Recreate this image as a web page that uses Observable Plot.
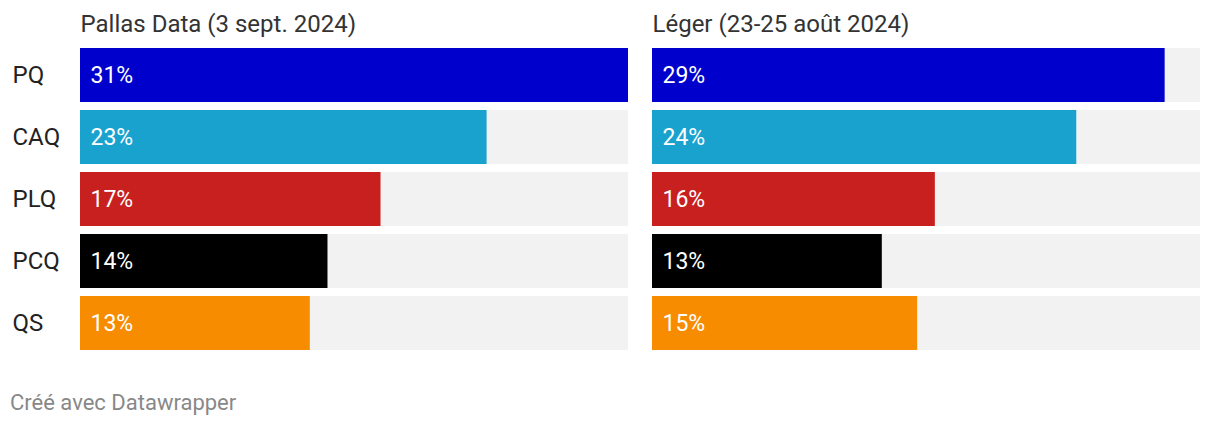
<!DOCTYPE html>
<html><head><meta charset="utf-8">
<script src="https://cdn.jsdelivr.net/npm/d3@7"></script>
<script src="https://cdn.jsdelivr.net/npm/@observablehq/plot@0.6"></script>
<style>
body{margin:0;background:#fff;font-family:Roboto,sans-serif;}
#chart{position:relative;width:1220px;height:426px;}
#caption{position:absolute;left:10px;top:389px;font-size:22px;line-height:28px;color:#888;font-family:Roboto,sans-serif;}
</style></head>
<body><div id="chart"><div id="caption">Créé avec Datawrapper</div></div>
<script>
const parties = ["PQ","CAQ","PLQ","PCQ","QS"];
const colors = ["#0000cc","#1aa2cf","#c8201f","#000000","#f88c00"];
const polls = ["Pallas Data (3 sept. 2024)","Léger (23-25 août 2024)"];
const pallas = [31,23,17,14,13];
const leger = [29,24,16,13,15];
const maxVal = 31;

const data = [];
[pallas, leger].forEach((vals, i) => parties.forEach((p, j) => data.push({poll: polls[i], party: p, value: vals[j]})));
const bg = [];
polls.forEach(poll => parties.forEach(p => bg.push({poll, party: p, value: maxVal})));

const plot = Plot.plot({
  width: 1220, height: 360,
  marginTop: 48, marginBottom: 10, marginLeft: 80, marginRight: 20,
  style: {fontFamily: "Roboto, sans-serif", fontSize: "24px", color: "#222", background: "transparent"},
  fx: {domain: polls, paddingInner: 24/572, paddingOuter: 0, axis: null},
  x: {domain: [0, maxVal], axis: null},
  y: {domain: parties, paddingInner: 8/62, paddingOuter: 0, label: null},
  color: {domain: parties, range: colors},
  axis: null,
  marks: [
    Plot.axisY({tickSize: 0, tickPadding: 68, textAnchor: "start", fontSize: 24, fill: "#222", label: null}),
    Plot.barX(bg, {fx: "poll", y: "party", x: "value", fill: "#f2f2f2"}),
    Plot.barX(data, {fx: "poll", y: "party", x: "value", fill: "party"}),
    Plot.text(data, {fx: "poll", y: "party", x: 0, text: d => d.value + "%", textAnchor: "start", dx: 10, fill: "white", fontSize: 23}),
    Plot.text(polls, {fx: d => d, frameAnchor: "top-left", text: d => d, dy: -34, fill: "#333", fontSize: 24, textAnchor: "start"})
  ]
});
document.getElementById("chart").prepend(plot);
</script>
</body></html>
